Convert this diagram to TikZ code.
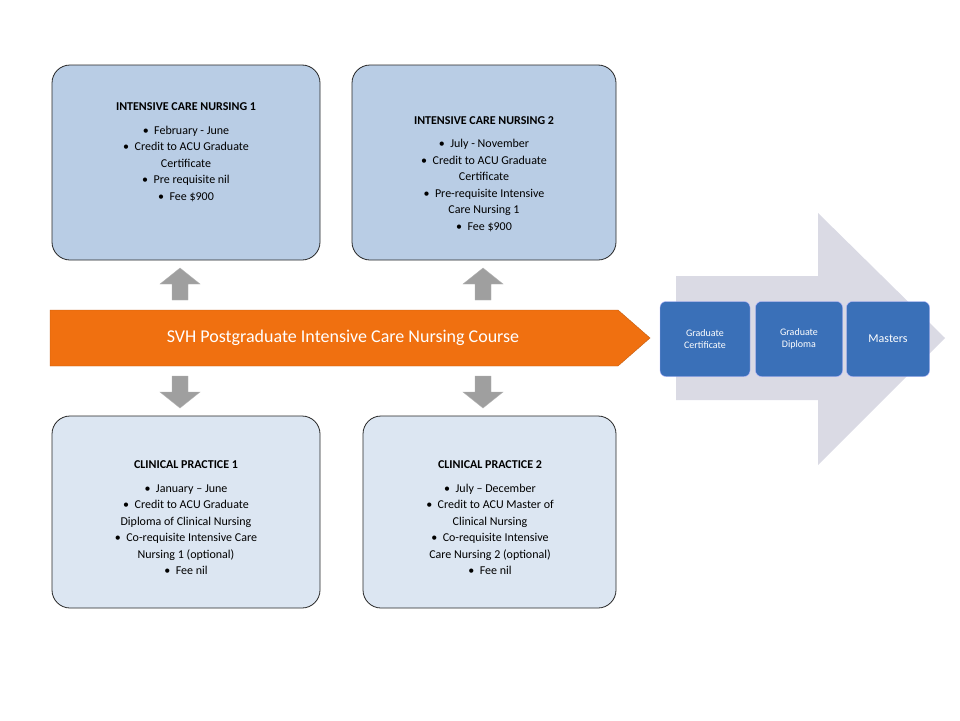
\documentclass[tikz,border=0pt]{standalone}
\usepackage{fontspec}
\setmainfont{Carlito}
\begin{document}
\begin{tikzpicture}[x=1pt,y=-1pt,
 box/.style={draw=black!85,line width=0.8pt,rounded corners=18pt,align=center,anchor=north west,inner sep=0pt,font=\fontsize{12}{16.5}\selectfont},
 dark/.style={fill=blue!20!cyan!5!white!70!blue!30},
 bluebox/.style={draw=white!70!blue,rounded corners=6pt,fill=blue!55!cyan!60!black!80,text=white,align=center,font=\fontsize{10}{12}\selectfont,minimum height=75pt},
 garrow/.style={fill=gray!75,draw=gray!60}]
\useasboundingbox (0,0) rectangle (960,720);
\definecolor{b1}{HTML}{B9CDE5}\definecolor{b2}{HTML}{DCE6F2}
\definecolor{bb}{HTML}{3A70B8}\definecolor{og}{HTML}{F07010}
% big arrow
\fill[blue!15!gray!25] (676,276) -- (818,276) -- (818,213) -- (945,338) -- (818,465) -- (818,400) -- (676,400) -- cycle;
% boxes
\draw[box,fill=b1] (52,65) rectangle (320,260);
\draw[box,fill=b1] (352,65) rectangle (616,260);
\draw[box,fill=b2] (52,416) rectangle (320,608);
\draw[box,fill=b2] (363,416) rectangle (616,608);
\node (t1) at (186,174) [align=center,font=\fontsize{12}{16.5}\selectfont] {\textbf{INTENSIVE CARE NURSING 1}\\[7pt]\textbullet\ \ February - June\\\textbullet\ \ Credit to ACU Graduate\\Certificate\\\textbullet\ \ Pre requisite nil\\\textbullet\ \ Fee \$900\\[28pt]};
\node (t2) at (484,174) [align=center,font=\fontsize{12}{16.5}\selectfont] {\textbf{INTENSIVE CARE NURSING 2}\\[7pt]\textbullet\ \ July - November\\\textbullet\ \ Credit to ACU Graduate\\Certificate\\\textbullet\ \ Pre-requisite Intensive\\Care Nursing 1\\\textbullet\ \ Fee \$900};
\node (t3) at (186,518) [align=center,font=\fontsize{12}{16.5}\selectfont] {\textbf{CLINICAL PRACTICE 1}\\[7pt]\textbullet\ \ January -- June\\\textbullet\ \ Credit to ACU Graduate\\Diploma of Clinical Nursing\\\textbullet\ \ Co-requisite Intensive Care\\Nursing 1 (optional)\\\textbullet\ \ Fee nil};
\node (t4) at (490,518) [align=center,font=\fontsize{12}{16.5}\selectfont] {\textbf{CLINICAL PRACTICE 2}\\[7pt]\textbullet\ \ July -- December\\\textbullet\ \ Credit to ACU Master of\\Clinical Nursing\\\textbullet\ \ Co-requisite Intensive\\Care Nursing 2 (optional)\\\textbullet\ \ Fee nil};
% orange arrow
\fill[og,draw=og!80!black] (50,310) -- (618,310) -- (650,338) -- (618,366) -- (50,366) -- cycle;
\node (svh) at (343,338) [text=white,font=\fontsize{18}{20}\selectfont] {SVH Postgraduate Intensive Care Nursing Course};
% gray arrows
\foreach \cx in {180,483}{
 \fill[garrow] (\cx-8,300) -- (\cx-8,284) -- (\cx-20,284) -- (\cx,268) -- (\cx+20,284) -- (\cx+8,284) -- (\cx+8,300) -- cycle;
 \fill[garrow] (\cx-8,376) -- (\cx-8,392) -- (\cx-20,392) -- (\cx,408) -- (\cx+20,392) -- (\cx+8,392) -- (\cx+8,376) -- cycle;}
% blue boxes
\node[bluebox,fill=bb,minimum width=90pt] (gc) at (705,339) {Graduate\\Certificate};
\node[bluebox,fill=bb,minimum width=87pt] (gd) at (799,339) {Graduate\\Diploma};
\node[bluebox,fill=bb,minimum width=83pt,font=\fontsize{12}{14}\selectfont] (m) at (888,339) {Masters};
\end{tikzpicture}
\end{document}
